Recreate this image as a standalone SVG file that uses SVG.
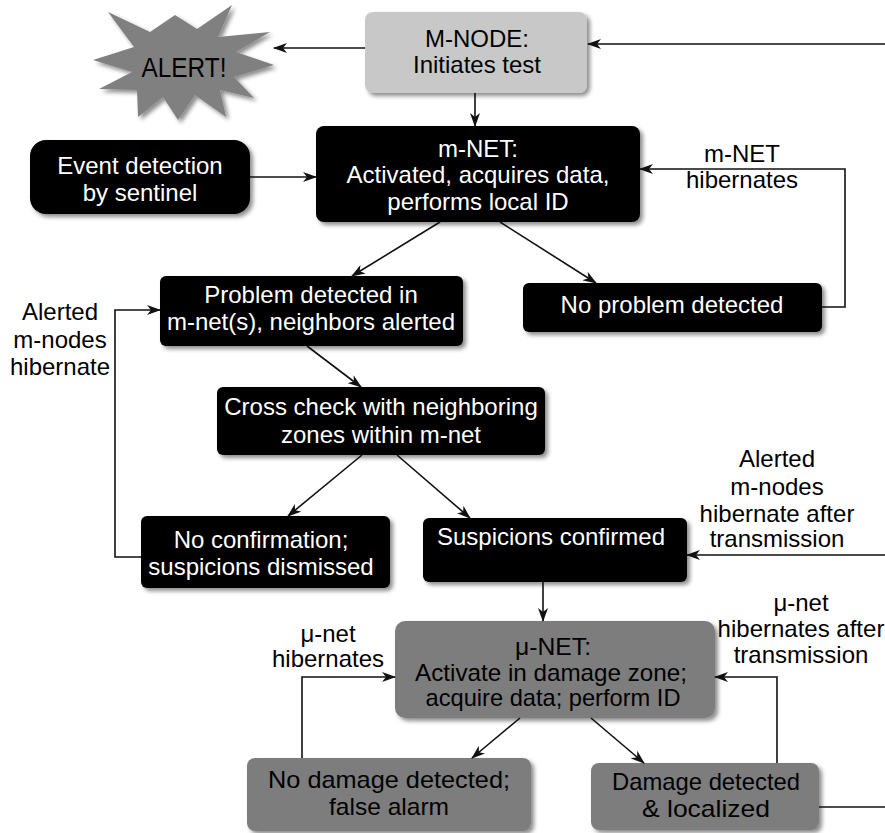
<svg xmlns="http://www.w3.org/2000/svg" width="885" height="833" viewBox="0 0 885 833">
<style>
text{font-family:"Liberation Sans",Arial,sans-serif;font-size:24px;text-anchor:middle}
.w{fill:#fff}
.k{fill:#000}
.n{font-size:24px}
.blk{fill:#000}
.lg{fill:#c8c8c8}
.dg{fill:#7d7d7d}
.c{fill:none;stroke:#111;stroke-width:1.6}
</style>
<defs>
<filter id="sh" x="-10%" y="-10%" width="130%" height="140%">
<feDropShadow dx="3" dy="3" stdDeviation="2" flood-color="#000" flood-opacity="0.45"/>
</filter>
<marker id="ar" viewBox="0 0 14 10" refX="13" refY="5" markerWidth="14" markerHeight="10" markerUnits="userSpaceOnUse" orient="auto">
<path d="M0,0 L14,5 L0,10 L4,5 z" fill="#111"/>
</marker>
</defs>
<rect width="885" height="833" fill="#fff"/>

<g id="alert">
<polygon filter="url(#sh)" fill="#808080" points="108,12 150,32 175,15 197,29 232,5 218,37 270,32 236,52 274,65 234,77 254,98 220,90 226,117 195,95 178,120 163,97 138,117 137,90 99,89 132,72 93,60 134,47"/>
<text x="184" y="77" class="k" style="font-size:27px" textLength="85" lengthAdjust="spacingAndGlyphs">ALERT!</text>
</g>

<g id="m-node">
<rect x="365" y="12" width="222" height="81" rx="8" class="lg" filter="url(#sh)"/>
<text x="477" y="47" class="k">M-NODE:</text>
<text x="477" y="73" class="k">Initiates test</text>
</g>

<g id="m-net">
<rect x="316" y="126" width="324" height="96" rx="8" class="blk" filter="url(#sh)"/>
<text x="478" y="157" class="w">m-NET:</text>
<text x="478" y="183" class="w">Activated, acquires data,</text>
<text x="478" y="210" class="w">performs local ID</text>
</g>

<g id="event">
<rect x="30" y="140" width="220" height="74" rx="16" class="blk" filter="url(#sh)"/>
<text x="140" y="174" class="w">Event detection</text>
<text x="140" y="201" class="w">by sentinel</text>
</g>

<g id="no-problem">
<rect x="523" y="283" width="299" height="49" rx="6" class="blk" filter="url(#sh)"/>
<text x="672" y="313" class="w">No problem detected</text>
</g>

<g id="problem">
<rect x="160" y="276" width="303" height="70" rx="6" class="blk" filter="url(#sh)"/>
<text x="311" y="303" class="w">Problem detected in</text>
<text x="311" y="330" class="w">m-net(s), neighbors alerted</text>
</g>

<g id="cross-check">
<rect x="217" y="387" width="328" height="68" rx="6" class="blk" filter="url(#sh)"/>
<text x="381" y="415" class="w">Cross check with neighboring</text>
<text x="381" y="443" class="w">zones within m-net</text>
</g>

<g id="no-confirmation">
<rect x="141" y="516" width="249" height="72" rx="6" class="blk" filter="url(#sh)"/>
<text x="261" y="548" class="w">No confirmation;</text>
<text x="261" y="575" class="w">suspicions dismissed</text>
</g>

<g id="suspicions">
<rect x="423" y="518" width="264" height="64" rx="6" class="blk" filter="url(#sh)"/>
<text x="551" y="545" class="w">Suspicions confirmed</text>
</g>

<g id="mu-net">
<rect x="395" y="621" width="320" height="97" rx="10" class="dg" filter="url(#sh)"/>
<text x="553" y="655" class="k n" textLength="76" lengthAdjust="spacingAndGlyphs">μ-NET:</text>
<text x="551" y="681" class="k n" textLength="272" lengthAdjust="spacingAndGlyphs">Activate in damage zone;</text>
<text x="553" y="706" class="k n" textLength="255" lengthAdjust="spacingAndGlyphs">acquire data; perform ID</text>
</g>

<g id="no-damage">
<rect x="247" y="758" width="284" height="73" rx="8" class="dg" filter="url(#sh)"/>
<text x="389" y="788" class="k n" textLength="242" lengthAdjust="spacingAndGlyphs">No damage detected;</text>
<text x="389" y="815" class="k n" textLength="120" lengthAdjust="spacingAndGlyphs">false alarm</text>
</g>

<g id="damage">
<rect x="591" y="763" width="228" height="67" rx="8" class="dg" filter="url(#sh)"/>
<text x="706" y="790" class="k n" textLength="188" lengthAdjust="spacingAndGlyphs">Damage detected</text>
<text x="706" y="817" class="k n" textLength="128" lengthAdjust="spacingAndGlyphs">&amp; localized</text>
</g>

<g id="labels">
<text x="742" y="162" class="k">m-NET</text>
<text x="742" y="188" class="k">hibernates</text>
<text x="60" y="320" class="k">Alerted</text>
<text x="60" y="348" class="k">m-nodes</text>
<text x="60" y="375" class="k">hibernate</text>
<text x="777" y="467" class="k">Alerted</text>
<text x="777" y="495" class="k">m-nodes</text>
<text x="777" y="522" class="k">hibernate after</text>
<text x="777" y="547" class="k">transmission</text>
<text x="328" y="642" class="k">μ-net</text>
<text x="328" y="667" class="k">hibernates</text>
<text x="801" y="611" class="k">μ-net</text>
<text x="801" y="637" class="k">hibernates after</text>
<text x="801" y="663" class="k">transmission</text>
</g>

<g id="connectors">
<path class="c" d="M365,48 L274,48" marker-end="url(#ar)"/>
<path class="c" d="M885,44 L588,44" marker-end="url(#ar)"/>
<path class="c" d="M475,93 L475,126" marker-end="url(#ar)"/>
<path class="c" d="M250,177 L316,177" marker-end="url(#ar)"/>
<path class="c" d="M440,222 L352,276" marker-end="url(#ar)"/>
<path class="c" d="M500,222 L596,283" marker-end="url(#ar)"/>
<path class="c" d="M822,307 L845,307 L845,169 L640,169" marker-end="url(#ar)"/>
<path class="c" d="M307,346 L361,387" marker-end="url(#ar)"/>
<path class="c" d="M362,455 L288,516" marker-end="url(#ar)"/>
<path class="c" d="M397,455 L470,518" marker-end="url(#ar)"/>
<path class="c" d="M141,557 L115,557 L115,310 L160,310" marker-end="url(#ar)"/>
<path class="c" d="M885,555 L687,555" marker-end="url(#ar)"/>
<path class="c" d="M543,582 L543,621" marker-end="url(#ar)"/>
<path class="c" d="M520,718 L472,758" marker-end="url(#ar)"/>
<path class="c" d="M591,718 L644,763" marker-end="url(#ar)"/>
<path class="c" d="M302,758 L302,677 L395,677" marker-end="url(#ar)"/>
<path class="c" d="M777,763 L777,677 L715,677" marker-end="url(#ar)"/>
<path class="c" d="M819,807 L885,807"/>
</g>
</svg>
